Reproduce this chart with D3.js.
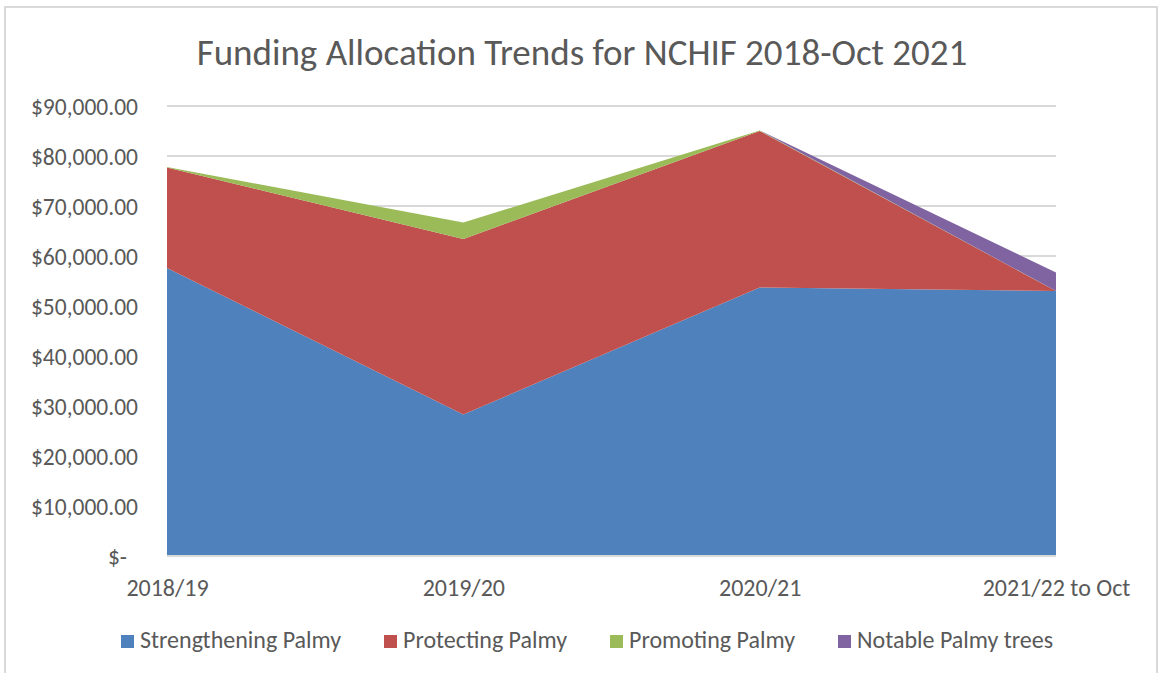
<!DOCTYPE html>
<html>
<head>
<meta charset="utf-8">
<script src="https://cdn.jsdelivr.net/npm/d3@7"></script>
<style>
  body { margin: 0; background: #fff; }
  text { font-family: Carlito, Calibri, "Liberation Sans Narrow", "Liberation Sans", sans-serif; fill: #595959; }
</style>
</head>
<body>
<svg id="chart" width="1162" height="673"></svg>
<script>
// categories + series
const categories = ["2018/19", "2019/20", "2020/21", "2021/22 to Oct"]
const strengthening = [57600, 28300, 53700, 53000]
const protecting = [20100, 35100, 31300, 0]
const promoting = [100, 3300, 100, 0]
const notable = [0, 0, 0, 3700]
const seriesNames = ["Strengthening Palmy", "Protecting Palmy", "Promoting Palmy", "Notable Palmy trees"]
const colors = ["#4f81bd", "#c0504d", "#9bbb59", "#8064a2"]
const yTicks = [0, 10000, 20000, 30000, 40000, 50000, 60000, 70000, 80000, 90000]

let rows = categories.map((c, i) => ({
    cat: c,
    "Strengthening Palmy": strengthening[i],
    "Protecting Palmy": protecting[i],
    "Promoting Palmy": promoting[i],
    "Notable Palmy trees": notable[i]
}))

let svg = d3.select("#chart")

// chart frame
svg.append("rect")
    .attr("x", 5).attr("y", 7)
    .attr("width", 1152).attr("height", 680)
    .attr("fill", "none")
    .attr("stroke", "#d9d9d9")
    .attr("stroke-width", 2)

let plot = { left: 167, right: 1056, top: 106, bottom: 556 }

let x = d3.scalePoint().domain(categories).range([plot.left, plot.right])
let y = d3.scaleLinear().domain([0, 90000]).range([plot.bottom, plot.top])

// gridlines
svg.append("g")
    .selectAll("line")
    .data(yTicks.filter(d => d > 0))
    .join("line")
    .attr("x1", plot.left).attr("x2", plot.right)
    .attr("y1", d => y(d)).attr("y2", d => y(d))
    .attr("stroke", "#d9d9d9")
    .attr("stroke-width", 2)

// stacked areas
let stack = d3.stack().keys(seriesNames)
let layers = stack(rows)

let area = d3.area()
    .x(d => x(d.data.cat))
    .y0(d => y(d[0]))
    .y1(d => y(d[1]))

svg.append("g")
    .selectAll("path")
    .data(layers)
    .join("path")
    .attr("d", area)
    .attr("fill", (d, i) => colors[i])

// y axis labels
let fmt = d3.format("$,.2f")
let yAxis = svg.append("g")
    .attr("transform", "translate(138,0)")
    .call(d3.axisLeft(y).tickValues(yTicks).tickSize(0).tickPadding(0).tickFormat(d => d === 0 ? "$-" : fmt(d)))
yAxis.select(".domain").remove()
yAxis.attr("font-family", null).attr("font-size", null)
yAxis.selectAll("text")
    .attr("font-size", 23.5)
    .attr("fill", "#595959")
    .attr("dy", "0.35em")
    .attr("dx", d => d === 0 ? -11 : 0)

// x axis labels
let xAxis = svg.append("g")
    .attr("transform", "translate(0," + plot.bottom + ")")
    .call(d3.axisBottom(x).tickSize(0).tickPadding(0))
xAxis.attr("font-family", null).attr("font-size", null)
xAxis.select(".domain")
    .attr("stroke", "#d9d9d9")
    .attr("stroke-width", 2)
    .attr("d", "M" + plot.left + ",0H" + plot.right)
xAxis.selectAll("text")
    .attr("font-size", 24)
    .attr("fill", "#595959")
    .attr("y", 40)
    .attr("dy", 0)

// title
svg.append("text")
    .attr("x", 582)
    .attr("y", 65)
    .attr("text-anchor", "middle")
    .attr("font-size", 37)
    .text("Funding Allocation Trends for NCHIF 2018-Oct 2021")

// legend
let legendX = [121, 384, 610, 838]
let legend = svg.append("g")
    .selectAll("g")
    .data(seriesNames)
    .join("g")
    .attr("transform", (d, i) => "translate(" + legendX[i] + ",635)")
legend.append("rect")
    .attr("width", 13).attr("height", 13)
    .attr("fill", (d, i) => colors[i])
legend.append("text")
    .attr("x", 19)
    .attr("y", 13)
    .attr("font-size", 24)
    .text(d => d)
</script>
</body>
</html>
